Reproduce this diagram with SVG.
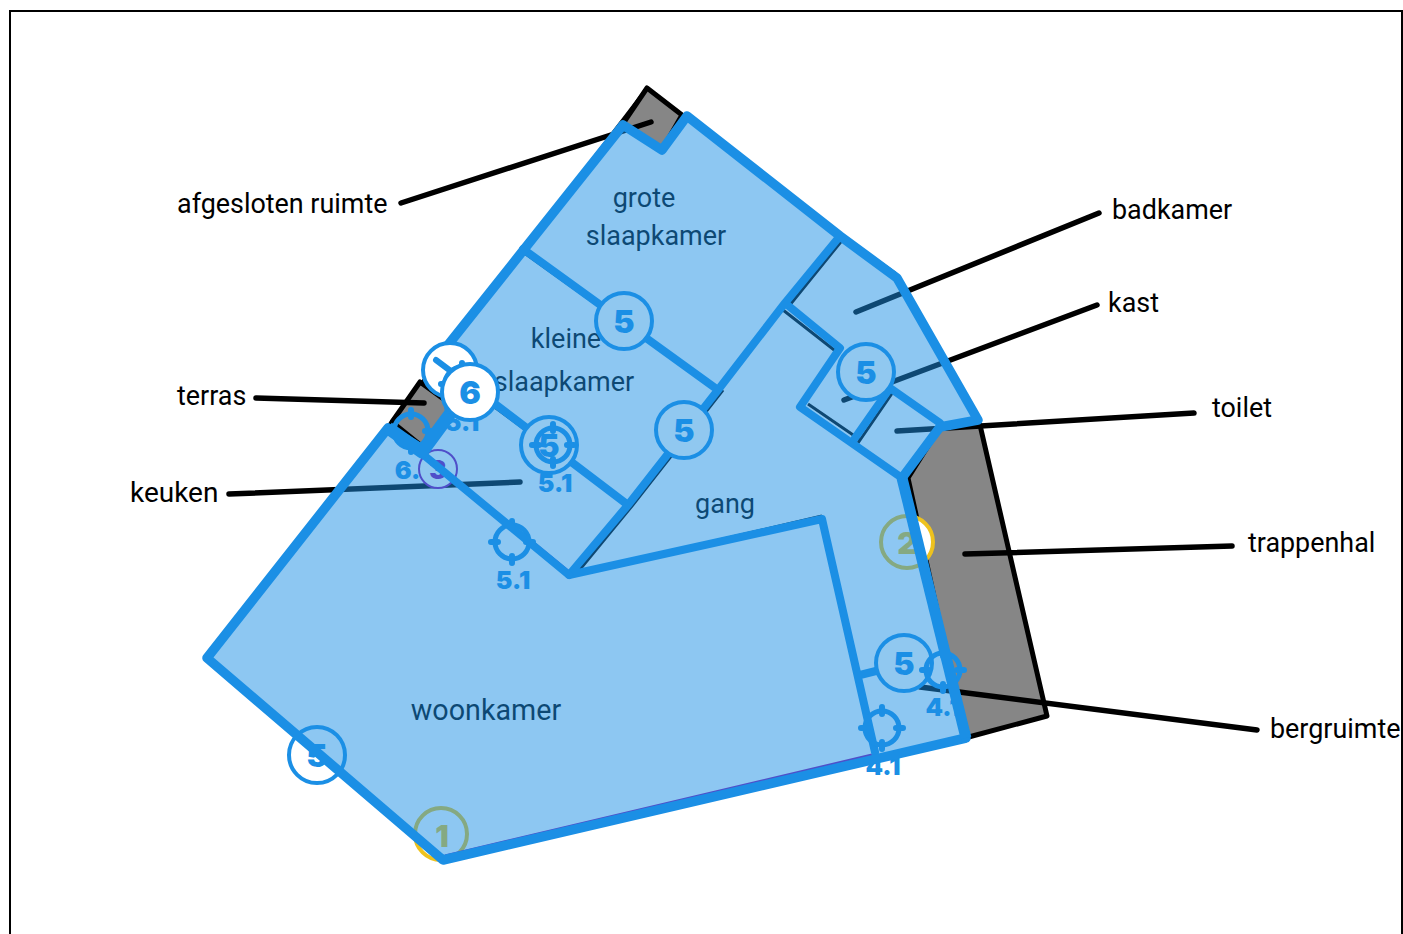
<svg xmlns="http://www.w3.org/2000/svg" width="1403" height="934" viewBox="0 0 1403 934">
<style>
.lbl{font-family:Roboto,"Liberation Sans",sans-serif;font-size:26.9px;fill:#000}
.room{font-family:Roboto,"Liberation Sans",sans-serif;font-size:27px;fill:#000;text-anchor:middle}
.num{font-family:Inter,"Liberation Sans",sans-serif;font-weight:900;text-anchor:middle;fill:#1b8fe5}
.n5{font-size:32px}.sub{font-size:25px}
.ldr{fill:none;stroke:#000;stroke-width:5.5;stroke-linecap:round}
.wall{fill:none;stroke:#1b8fe5;stroke-width:8;stroke-linecap:round;stroke-linejoin:round}
.blk{fill:none;stroke:#000;stroke-width:3}
.c5{fill:#90c8f0;stroke:#1b8fe5;stroke-width:4}
.tg{fill:none;stroke:#1b8fe5;stroke-width:5}
.tk{stroke:#1b8fe5;stroke-width:6;stroke-linecap:round;fill:none}
.gray{fill:#868686;stroke:#000;stroke-width:5;stroke-linejoin:round}
</style>
<defs>
<g id="target"><circle r="17" class="tg"/><path class="tk" d="M0-21V-14M0 14V21M-21 0H-14M14 0H21"/></g>
</defs>
<rect width="1403" height="934" fill="#fff"/>
<rect x="10" y="11" width="1392" height="960" fill="none" stroke="#000" stroke-width="2"/>
<g id="rooms-under">
<path d="M647 88 420 385 207 658 443 860 966 738 978 420 895 273 840 234Z" fill="#fff" stroke="#000" stroke-width="3"/>
<polygon id="afgesloten-ruimte" class="gray" points="647,88 682,115 662,150 622,125"/>
<polygon id="terras" class="gray" points="420,382 456,408 424,448 392,422"/>
<polygon id="trappenhal" class="gray" points="940,427 980,425 1047,716 965,738 908,478"/>
<path class="blk" d="M844 238 789 306M783 310 838 353M808 404 859 439M893 392 858 443M723 390 632 506 577 573 822 516M523 252 718 391M470 389 628 505"/>
</g>
<g id="leaders">
<path class="ldr" d="M401 203 651 122"/>
<path class="ldr" d="M1099 213 856 312"/>
<path class="ldr" d="M1097 305 844 400"/>
<path class="ldr" d="M1194 413 897 431"/>
<path class="ldr" d="M1232 546 965 554"/>
<path class="ldr" d="M1257 730 920 687"/>
<path class="ldr" d="M256 398 424 403"/>
<path class="ldr" d="M229 494 520 482"/>
</g>
<g id="room-labels">
<text class="room" x="644" y="207">grote</text>
<text class="room" x="656" y="245">slaapkamer</text>
<text class="room" x="566" y="348">kleine</text>
<text class="room" x="564" y="391">slaapkamer</text>
<text class="room" x="725" y="513">gang</text>
<text class="room" x="486" y="720" style="font-size:28.7px">woonkamer</text>
</g>
<g id="markers-under">
<circle id="m1" cx="441" cy="834" r="26" fill="#fff" stroke="#eec21e" stroke-width="4"/>
<text class="num" x="442" y="847" font-size="30" style="fill:#eec21e">1</text>
<circle id="m2" cx="907" cy="542" r="26" fill="#fff" stroke="#eec21e" stroke-width="4"/>
<text class="num" x="907" y="554" font-size="30" style="fill:#eec21e">2</text>
<path d="M445 856 872 755M520 532 569 572M212 660 240 684" fill="none" stroke="#820fad" stroke-width="3"/>
</g>
<polygon id="overlay" fill="#1c8fe5" fill-opacity=".5" points="623,125 662,150 687,116 840,236 897,278 978,420 940,427 902,478 966,738 443,860 207,658 388,425 424,450 452,412 440,355"/>
<g id="walls">
<path class="wall" d="M523 249 718 390M840 236 785 303 718 390 628 505 569 575 822 519 875 752M470 385 628 505M785 303 840 348 800 407 902 478M890 388 940 423M890 388 855 438M860 675 900 665"/>
</g>
<g id="marker-5a"><circle class="c5" cx="624" cy="321" r="28"/><text class="num n5" x="624" y="333">5</text></g>
<g id="marker-5b"><circle class="c5" cx="684" cy="430" r="28"/><text class="num n5" x="684" y="442">5</text></g>
<g id="marker-5c"><circle class="c5" cx="866" cy="372" r="28"/><text class="num n5" x="866" y="384">5</text></g>
<g id="marker-5d"><circle class="c5" cx="904" cy="663" r="28"/><text class="num n5" x="904" y="675">5</text></g>
<g id="marker-5e"><circle cx="317" cy="755" r="28" fill="none" stroke="#1b8fe5" stroke-width="4"/><text class="num n5" x="317" y="767">5</text></g>
<g id="marker-5f"><circle class="c5" cx="549" cy="445" r="28"/><text class="num n5" x="549" y="457">5</text></g>
<g id="target-51a"><use href="#target" x="553" y="445"/><text class="num sub" x="555" y="492">5.1</text></g>
<g id="target-51b"><use href="#target" x="512" y="542"/><text class="num sub" x="513" y="589">5.1</text></g>
<g id="target-41a"><use href="#target" x="882" y="728"/><text class="num sub" x="883" y="775">4.1</text></g>
<g id="target-41b"><use href="#target" x="943" y="670"/><text class="num sub" x="943" y="716">4.1</text></g>
<g id="target-61"><use href="#target" x="411" y="431"/><text class="num sub" x="412" y="479">6.1</text></g>
<g id="marker-3"><circle cx="438" cy="469" r="19" fill="#90c8f0" stroke="#4f4fc9" stroke-width="2"/><text class="num" x="438" y="479" font-size="26" style="fill:#4f4fc9">3</text></g>
<path class="wall" d="M420 452 569 575"/>
<polygon id="outline" fill="none" stroke="#1b8fe5" stroke-width="9.5" stroke-linejoin="round" points="623,125 662,150 687,116 840,236 897,278 978,420 940,427 902,478 966,738 443,860 207,658 388,428 424,450 450,414 440,355"/>
<path d="M902 478 966 738" fill="none" stroke="#1b8fe5" stroke-width="11"/>
<path d="M388 428 422 452 450 414" fill="none" stroke="#1b8fe5" stroke-width="13" stroke-linejoin="round"/>
<g id="marker-7"><circle cx="450" cy="370" r="27" fill="#fff" stroke="#1b8fe5" stroke-width="4"/><path d="M436 360 452 372" fill="none" stroke="#1b8fe5" stroke-width="6" stroke-linecap="round"/><use href="#target" x="462" y="384"/><text class="num sub" x="462" y="431">5.1</text></g>
<g id="marker-6"><circle cx="470" cy="392" r="28" fill="#fff" stroke="#1b8fe5" stroke-width="4"/><text class="num n5" x="470" y="404">6</text></g>
<g id="labels">
<text class="lbl" x="177" y="213">afgesloten ruimte</text>
<text class="lbl" x="177" y="405">terras</text>
<text class="lbl" x="130" y="502" style="font-size:28px">keuken</text>
<text class="lbl" x="1112" y="219">badkamer</text>
<text class="lbl" x="1108" y="312">kast</text>
<text class="lbl" x="1212" y="417">toilet</text>
<text class="lbl" x="1248" y="552">trappenhal</text>
<text class="lbl" x="1270" y="738">bergruimte</text>
</g>
</svg>
